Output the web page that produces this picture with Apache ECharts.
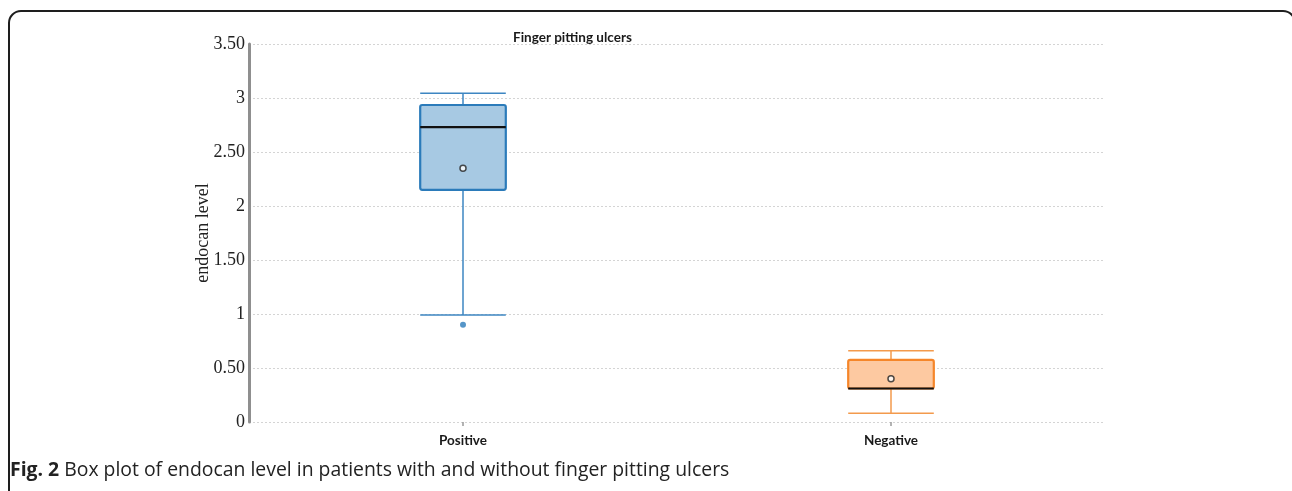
<!DOCTYPE html>
<html>
<head>
<meta charset="utf-8">
<script src="https://cdn.jsdelivr.net/npm/echarts@6/dist/echarts.min.js"></script>
<style>
  html, body { margin: 0; padding: 0; background: #ffffff; }
  #chart { width: 1292px; height: 491px; }
</style>
</head>
<body>
<div id="chart"></div>
<script>
// Groups on the category axis
const categories = ['Positive', 'Negative'];
// Five-number summaries: [lower whisker, Q1, median, Q3, upper whisker]
const boxStats = [
  [0.99, 2.15, 2.73, 2.935, 3.045],
  [0.08, 0.31, 0.31, 0.575, 0.66]
];
// Group means
const means = [2.35, 0.40];
// Outliers: [category index, value]
const outliers = [[0, 0.90]];
// Y-axis tick labels, keyed by value
const yTickLabels = { 0: '0', 0.5: '0.50', 1: '1', 1.5: '1.50', 2: '2', 2.5: '2.50', 3: '3', 3.5: '3.50' };

const palette = [
  { fill: '#a7c9e3', stroke: '#2b7bba', whisker: '#3d86c2', dot: '#2b7bba' },
  { fill: '#fdc9a1', stroke: '#f5862a', whisker: '#f39a4c', dot: '#f5862a' }
];

const chart = echarts.init(document.getElementById('chart'), null, { renderer: 'canvas' });

const boxData = boxStats.map((s, i) => [i].concat(s));

chart.setOption({
  animation: false,
  backgroundColor: '#ffffff',
  title: {
    text: 'Finger pitting ulcers',
    left: 508,
    top: 26,
    textStyle: { fontFamily: 'Lato', fontWeight: 'bold', fontSize: 13.5, color: '#1a1a1a' }
  },
  grid: { left: 249, right: 187, top: 44, bottom: 69 },
  xAxis: {
    type: 'category',
    data: categories,
    axisLine: { show: false },
    axisTick: { show: true, alignWithLabel: true, length: 4, lineStyle: { color: '#9a9a9a', width: 1.5 } },
    axisLabel: { margin: 12, fontFamily: 'Lato', fontWeight: 'bold', fontSize: 13.5, color: '#1a1a1a' },
    splitLine: { show: false }
  },
  yAxis: {
    type: 'value',
    min: 0,
    max: 3.5,
    interval: 0.5,
    name: 'endocan level',
    nameLocation: 'middle',
    nameGap: 37,
    nameMoveOverlap: false,
    nameTextStyle: { fontFamily: 'Liberation Serif', fontSize: 18, color: '#222' },
    axisLine: { show: true, lineStyle: { color: '#8f8f8f', width: 3 } },
    axisTick: { show: false },
    axisLabel: {
      margin: 4,
      fontFamily: 'Liberation Serif',
      fontSize: 18,
      color: '#222',
      formatter: v => yTickLabels[v] !== undefined ? yTickLabels[v] : String(v)
    },
    splitLine: { show: true, lineStyle: { color: '#d4d4d4', type: [2, 2], width: 1 } }
  },
  series: [
    {
      // whiskers, boxes and black median lines
      type: 'custom',
      data: boxData,
      encode: { x: 0, y: [1, 2, 3, 4, 5] },
      renderItem: function (params, api) {
        const idx = api.value(0);
        const c = palette[idx];
        const half = api.size([1, 0])[0] * 0.1;
        const lo = api.coord([idx, api.value(1)]);
        const q1 = api.coord([idx, api.value(2)]);
        const med = api.coord([idx, api.value(3)]);
        const q3 = api.coord([idx, api.value(4)]);
        const hi = api.coord([idx, api.value(5)]);
        const x = lo[0];
        const wStyle = { stroke: c.whisker, lineWidth: 1.5 };
        return {
          type: 'group',
          children: [
            { type: 'line', shape: { x1: x, y1: hi[1], x2: x, y2: q3[1] }, style: wStyle },
            { type: 'line', shape: { x1: x, y1: q1[1], x2: x, y2: lo[1] }, style: wStyle },
            { type: 'line', shape: { x1: x - half, y1: hi[1], x2: x + half, y2: hi[1] }, style: wStyle },
            { type: 'line', shape: { x1: x - half, y1: lo[1], x2: x + half, y2: lo[1] }, style: wStyle },
            {
              type: 'rect',
              shape: { x: x - half, y: q3[1], width: half * 2, height: q1[1] - q3[1], r: 2 },
              style: { fill: c.fill, stroke: c.stroke, lineWidth: 2.2 }
            },
            { type: 'line', shape: { x1: x - half, y1: med[1], x2: x + half, y2: med[1] }, style: { stroke: '#111', lineWidth: 2.2 } }
          ]
        };
      },
      z: 2
    },
    {
      // outliers
      type: 'scatter',
      data: outliers,
      symbol: 'circle',
      symbolSize: 6,
      itemStyle: { color: palette[0].dot },
      z: 3
    },
    {
      // means
      type: 'scatter',
      data: means.map((m, i) => [i, m]),
      symbol: 'circle',
      symbolSize: 6,
      itemStyle: { color: '#ffffff', borderColor: '#222', borderWidth: 1.5 },
      z: 4
    }
  ],
  graphic: [
    {
      type: 'rect',
      shape: { x: 9, y: 11, width: 1286, height: 520, r: 12 },
      style: { fill: null, stroke: '#1e1e1e', lineWidth: 2 },
      silent: true,
      z: 0
    },
    {
      type: 'text',
      left: 10,
      top: 461,
      style: {
        text: '{b|Fig. 2} Box plot of endocan level in patients with and without finger pitting ulcers',
        fontFamily: 'Open Sans',
        fontSize: 19.4,
        fill: '#222',
        rich: {
          b: { fontFamily: 'Open Sans', fontWeight: 'bold', fontSize: 19.4, fill: '#222' }
        }
      },
      z: 10
    }
  ]
});
</script>
</body>
</html>
